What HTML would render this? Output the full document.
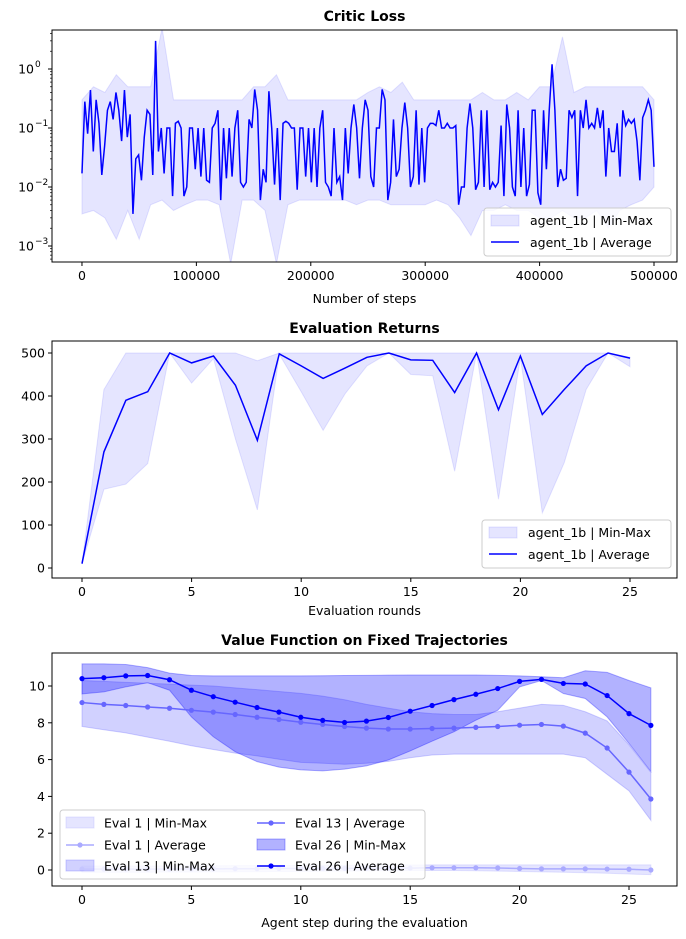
<!DOCTYPE html>
<html><head><meta charset="utf-8"><style>
body{margin:0;background:#fff;}
svg{display:block;font-family:"DejaVu Sans","Liberation Sans",sans-serif;}
</style></head><body>
<svg id="fig" width="686" height="939" viewBox="0 0 686 939" xmlns="http://www.w3.org/2000/svg"></svg>
<script>
// ---- Plot 1 data: Critic Loss ----
const lossAvg=[0.017,0.28,0.08,0.44,0.04,0.3,0.12,0.016,0.05,0.2,0.28,0.14,0.4,0.2,0.06,0.44,0.07,0.17,0.0035,0.03,0.035,0.013,0.07,0.2,0.17,0.016,3.0,0.04,0.1,0.017,0.1,0.1,0.007,0.12,0.13,0.1,0.007,0.01,0.1,0.1,0.02,0.1,0.015,0.1,0.013,0.012,0.1,0.12,0.2,0.006,0.1,0.014,0.1,0.015,0.1,0.2,0.012,0.01,0.012,0.14,0.1,0.45,0.2,0.006,0.02,0.012,0.42,0.1,0.011,0.1,0.006,0.12,0.13,0.12,0.1,0.1,0.009,0.1,0.1,0.015,0.1,0.012,0.1,0.01,0.1,0.2,0.012,0.01,0.007,0.1,0.012,0.015,0.006,0.1,0.017,0.1,0.25,0.1,0.014,0.1,0.3,0.2,0.015,0.01,0.1,0.1,0.45,0.3,0.006,0.012,0.14,0.015,0.02,0.1,0.27,0.1,0.01,0.015,0.2,0.011,0.1,0.012,0.1,0.12,0.12,0.11,0.2,0.1,0.1,0.12,0.1,0.1,0.11,0.005,0.01,0.01,0.1,0.26,0.1,0.009,0.012,0.2,0.01,0.2,0.009,0.012,0.01,0.012,0.11,0.007,0.25,0.1,0.01,0.007,0.2,0.01,0.1,0.007,0.011,0.2,0.2,0.008,0.005,0.2,0.02,0.2,1.2,0.2,0.01,0.02,0.013,0.014,0.2,0.15,0.2,0.007,0.2,0.1,0.3,0.1,0.12,0.1,0.22,0.1,0.2,0.015,0.1,0.04,0.04,0.12,0.015,0.2,0.11,0.14,0.12,0.14,0.06,0.013,0.15,0.2,0.3,0.2,0.022];
const lossBandSteps=[0,10000,20000,30000,40000,50000,60000,70000,80000,90000,100000,110000,120000,130000,140000,150000,160000,170000,180000,190000,200000,210000,220000,230000,240000,250000,260000,270000,280000,290000,300000,310000,320000,330000,340000,350000,360000,370000,380000,390000,400000,410000,420000,430000,440000,450000,460000,470000,480000,490000,500000];
const lossMax=[0.3,0.5,0.4,0.8,0.5,0.5,0.5,5,0.3,0.3,0.3,0.3,0.3,0.3,0.3,0.5,0.5,0.8,0.3,0.3,0.3,0.3,0.3,0.3,0.3,0.4,0.5,0.4,0.6,0.3,0.3,0.3,0.3,0.3,0.3,0.4,0.3,0.3,0.4,0.3,0.5,0.5,3.5,0.4,0.5,0.5,0.5,0.5,0.5,0.5,0.3];
const lossMin=[0.0035,0.004,0.003,0.0013,0.004,0.0013,0.005,0.006,0.004,0.005,0.006,0.006,0.005,0.0005,0.006,0.006,0.004,0.0005,0.005,0.006,0.006,0.006,0.006,0.006,0.005,0.006,0.006,0.005,0.005,0.005,0.005,0.006,0.005,0.003,0.0015,0.004,0.004,0.005,0.004,0.004,0.003,0.003,0.004,0.003,0.003,0.004,0.002,0.004,0.005,0.006,0.01];
const lossXTicks=[0,100000,200000,300000,400000,500000];
const lossYTicks=[0,-1,-2,-3];
// ---- Plot 2 data: Evaluation Returns ----
const retAvg=[10,270,390,410,500,477,493,425,297,498,470,441,465,490,500,484,483,408,500,368,493,357,415,470,500,488];
const retMax=[10,415,500,500,500,500,500,500,482,500,500,500,500,500,500,500,500,500,500,500,500,500,500,500,500,490];
const retMin=[10,183,195,243,500,430,487,300,135,497,410,320,405,470,500,450,447,225,500,160,490,128,245,415,500,468];
const retXTicks=[0,5,10,15,20,25];
const retYTicks=[0,100,200,300,400,500];
// ---- Plot 3 data: Value Function ----
const e1Avg=[0.05,0.05,0.05,0.05,0.05,0.06,0.06,0.07,0.07,0.08,0.08,0.08,0.09,0.09,0.1,0.1,0.12,0.12,0.12,0.11,0.08,0.06,0.06,0.06,0.05,0.04,0.0];
const e1Max=[0.22,0.22,0.22,0.22,0.23,0.23,0.23,0.24,0.24,0.24,0.25,0.25,0.25,0.26,0.26,0.27,0.28,0.28,0.28,0.28,0.28,0.28,0.28,0.28,0.28,0.28,0.28];
const e1Min=[-0.12,-0.12,-0.12,-0.12,-0.11,-0.11,-0.1,-0.1,-0.09,-0.08,-0.08,-0.07,-0.06,-0.05,-0.04,-0.03,-0.03,-0.03,-0.04,-0.06,-0.08,-0.1,-0.12,-0.15,-0.18,-0.22,-0.25];
const e13Avg=[9.1,9.0,8.94,8.86,8.79,8.68,8.58,8.45,8.3,8.18,8.03,7.91,7.8,7.71,7.66,7.66,7.69,7.71,7.75,7.8,7.87,7.91,7.82,7.44,6.63,5.32,3.86];
const e13Max=[10.3,10.25,10.2,10.15,10.1,10.05,10.0,9.9,9.8,9.7,9.6,9.45,9.25,9.0,8.8,8.6,8.5,8.45,8.45,8.6,8.8,9.0,8.95,8.6,8.1,6.8,5.3];
const e13Min=[7.8,7.62,7.45,7.22,7.0,6.75,6.55,6.35,6.2,6.02,5.85,5.8,5.75,5.8,5.9,6.1,6.25,6.3,6.3,6.3,6.3,6.3,6.3,6.1,5.2,4.3,2.7];
const e26Avg=[10.4,10.45,10.55,10.57,10.34,9.77,9.42,9.12,8.83,8.58,8.3,8.13,8.02,8.09,8.29,8.63,8.94,9.26,9.55,9.86,10.25,10.36,10.14,10.11,9.48,8.5,7.86];
const e26Max=[11.2,11.2,11.17,11.0,10.7,10.57,10.55,10.55,10.55,10.55,10.55,10.56,10.57,10.58,10.59,10.6,10.6,10.6,10.6,10.58,10.55,10.5,10.45,10.83,10.74,10.3,9.9];
const e26Min=[9.57,9.68,9.95,10.18,9.77,8.32,7.24,6.43,5.89,5.59,5.44,5.39,5.48,5.66,5.98,6.47,7.0,7.51,8.14,8.68,9.95,10.3,9.59,9.32,8.32,6.88,5.35];
const vfXTicks=[0,5,10,15,20,25];
const vfYTicks=[0,2,4,6,8,10];

const NS="http://www.w3.org/2000/svg";
const fig=document.getElementById('fig');
function el(tag,attrs,parent){const e=document.createElementNS(NS,tag);for(const k in attrs)e.setAttribute(k,attrs[k]);(parent||fig).appendChild(e);return e;}
function txt(s,attrs,parent){const e=el('text',attrs,parent);e.textContent=s;return e;}
function linScale(d0,d1,r0,r1){return v=>r0+(v-d0)/(d1-d0)*(r1-r0);}
function pts(xs,ys,sx,sy){return xs.map((x,i)=>sx(x).toFixed(2)+','+sy(ys[i]).toFixed(2)).join(' ');}
function band(xs,lo,hi,sx,sy){return pts(xs,hi,sx,sy)+' '+pts(xs.slice().reverse(),lo.slice().reverse(),sx,sy);}
function frame(g,L,T,R,B){el('rect',{x:L,y:T,width:R-L,height:B-T,fill:'none',stroke:'#000','stroke-width':1},g);}
function xTicks(g,ticks,sx,B,fmt){ticks.forEach(t=>{const x=sx(t);el('line',{x1:x,y1:B,x2:x,y2:B+4,stroke:'#000'},g);txt(fmt(t),{x:x,y:B+18,'font-size':12.5,'text-anchor':'middle'},g);});}
function yTicks(g,ticks,sy,L){ticks.forEach(t=>{const y=sy(t);el('line',{x1:L-4,y1:y,x2:L,y2:y,stroke:'#000'},g);txt(String(t),{x:L-7,y:y+4.5,'font-size':12.5,'text-anchor':'end'},g);});}

// ===== Plot 1 =====
(function(){
 const L=52,R=677,T=30,B=262;
 const g=el('g',{});
 const sx=linScale(-26200,520100,L,R);
 const ly=linScale(0,-3,69,246);
 const sy=v=>ly(Math.log10(v));
 const clip=el('clipPath',{id:'c1'},g);el('rect',{x:L,y:T,width:R-L,height:B-T},clip);
 const ig=el('g',{'clip-path':'url(#c1)'},g);
 const bp=el('polygon',{points:band(lossBandSteps,lossMin,lossMax,sx,sy),fill:'rgba(0,0,255,0.1)',stroke:'rgba(0,0,255,0.1)'},ig);
 
 const steps=lossAvg.map((_,i)=>i*500000/(lossAvg.length-1));
 const lp=el('polyline',{points:pts(steps,lossAvg,sx,sy),fill:'none',stroke:'#0000ff','stroke-width':1.5},ig);
 
 frame(g,L,T,R,B);
 xTicks(g,lossXTicks,sx,B,t=>String(t));
 lossYTicks.forEach(e=>{const y=ly(e);el('line',{x1:L-4,y1:y,x2:L,y2:y,stroke:'#000'},g);
  const t=txt('10',{x:L-18,y:y+4.5,'font-size':12.5,'text-anchor':'end'},g);
  txt(e===0?'0':'\u2212'+(-e),{x:L-17,y:y-2,'font-size':9,'text-anchor':'start'},g);
  for(let k=2;k<10;k++){const my=ly(e+Math.log10(k));if(my>T&&my<B)el('line',{x1:L-2,y1:my,x2:L,y2:my,stroke:'#000','stroke-width':0.7},g);}
  if(e===-3){for(let k=5;k<10;k++){const my=ly(-4+Math.log10(k));if(my>T&&my<B)el('line',{x1:L-2,y1:my,x2:L,y2:my,stroke:'#000','stroke-width':0.7},g);}}
 });
 const tt=txt('Critic Loss',{x:(L+R)/2,y:21,'font-size':14,'font-weight':'bold','text-anchor':'middle'},g);
 
 const xl=txt('Number of steps',{x:(L+R)/2,y:303,'font-size':12.5,'text-anchor':'middle'},g);
 
 const lg=el('g',{},g);
 el('rect',{x:484,y:208,width:187,height:48,rx:3,fill:'rgba(255,255,255,0.8)',stroke:'#ccc'},lg);
 el('rect',{x:491,y:215,width:28,height:11,fill:'rgba(0,0,255,0.1)',stroke:'rgba(0,0,255,0.1)'},lg);
 txt('agent_1b | Min-Max',{x:530,y:225,'font-size':12.5},lg);
 el('line',{x1:491,y1:242,x2:519,y2:242,stroke:'#0000ff','stroke-width':1.5},lg);
 txt('agent_1b | Average',{x:530,y:247,'font-size':12.5},lg);
})();

// ===== Plot 2 =====
(function(){
 const L=52,R=677,T=341,B=578;
 const g=el('g',{});
 const sx=linScale(0,25,82,630);
 const sy=linScale(0,500,568,353);
 const xs=retAvg.map((_,i)=>i);
 const bp=el('polygon',{points:band(xs,retMin,retMax,sx,sy),fill:'rgba(0,0,255,0.1)',stroke:'rgba(0,0,255,0.1)'},g);
 
 const lp=el('polyline',{points:pts(xs,retAvg,sx,sy),fill:'none',stroke:'#0000ff','stroke-width':1.5},g);
 
 frame(g,L,T,R,B);
 xTicks(g,retXTicks,sx,B,t=>String(t));
 yTicks(g,retYTicks,sy,L);
 const tt=txt('Evaluation Returns',{x:(L+R)/2,y:333,'font-size':14,'font-weight':'bold','text-anchor':'middle'},g);
 
 const xl=txt('Evaluation rounds',{x:(L+R)/2,y:615,'font-size':12.5,'text-anchor':'middle'},g);
 
 const lg=el('g',{},g);
 el('rect',{x:482,y:520,width:189,height:48,rx:3,fill:'rgba(255,255,255,0.8)',stroke:'#ccc'},lg);
 el('rect',{x:489,y:527,width:28,height:11,fill:'rgba(0,0,255,0.1)',stroke:'rgba(0,0,255,0.1)'},lg);
 txt('agent_1b | Min-Max',{x:528,y:537,'font-size':12.5},lg);
 el('line',{x1:489,y1:554,x2:517,y2:554,stroke:'#0000ff','stroke-width':1.5},lg);
 txt('agent_1b | Average',{x:528,y:559,'font-size':12.5},lg);
})();

// ===== Plot 3 =====
(function(){
 const L=52,R=677,T=653,B=886;
 const g=el('g',{});
 const sx=linScale(0,25,82,629);
 const sy=linScale(0,10,870,686);
 const xs=e1Avg.map((_,i)=>i);
 const series=[
  {n:'eval-1',avg:e1Avg,lo:e1Min,hi:e1Max,c:'170,170,255',fa:0.3},
  {n:'eval-13',avg:e13Avg,lo:e13Min,hi:e13Max,c:'102,102,255',fa:0.3},
  {n:'eval-26',avg:e26Avg,lo:e26Min,hi:e26Max,c:'0,0,255',fa:0.3}];
 series.forEach(s=>{
  const bp=el('polygon',{points:band(xs,s.lo,s.hi,sx,sy),fill:'rgba('+s.c+','+s.fa+')',stroke:'rgba('+s.c+','+s.fa+')'},g);
  
 });
 series.forEach(s=>{
  const lp=el('polyline',{points:pts(xs,s.avg,sx,sy),fill:'none',stroke:'rgb('+s.c+')','stroke-width':1.5},g);
  
  s.avg.forEach((v,i)=>{const p=el('circle',{cx:sx(i),cy:sy(v),r:2.6,fill:'rgb('+s.c+')'},g);
   });
 });
 frame(g,L,T,R,B);
 xTicks(g,vfXTicks,sx,B,t=>String(t));
 yTicks(g,vfYTicks,sy,L);
 const tt=txt('Value Function on Fixed Trajectories',{x:(L+R)/2,y:645,'font-size':14,'font-weight':'bold','text-anchor':'middle'},g);
 
 const xl=txt('Agent step during the evaluation',{x:(L+R)/2,y:927,'font-size':12.5,'text-anchor':'middle'},g);
 
 const lg=el('g',{},g);
 el('rect',{x:60,y:810,width:365,height:69,rx:3,fill:'rgba(255,255,255,0.8)',stroke:'#ccc'},lg);
 const items=[
  {x:66,y:823,t:'Eval 1 | Min-Max',c:'170,170,255',k:'band'},
  {x:66,y:845,t:'Eval 1 | Average',c:'170,170,255',k:'line'},
  {x:66,y:866,t:'Eval 13 | Min-Max',c:'102,102,255',k:'band'},
  {x:257,y:823,t:'Eval 13 | Average',c:'102,102,255',k:'line'},
  {x:257,y:845,t:'Eval 26 | Min-Max',c:'0,0,255',k:'band'},
  {x:257,y:866,t:'Eval 26 | Average',c:'0,0,255',k:'line'}];
 items.forEach(it=>{
  if(it.k==='band')el('rect',{x:it.x,y:it.y-6,width:28,height:11,fill:'rgba('+it.c+',0.3)',stroke:'rgba('+it.c+',0.3)'},lg);
  else{el('line',{x1:it.x,y1:it.y,x2:it.x+28,y2:it.y,stroke:'rgb('+it.c+')','stroke-width':1.5},lg);el('circle',{cx:it.x+14,cy:it.y,r:2.6,fill:'rgb('+it.c+')'},lg);}
  txt(it.t,{x:it.x+38,y:it.y+4.5,'font-size':12.5},lg);
 });
})();
</script>
</body></html>
